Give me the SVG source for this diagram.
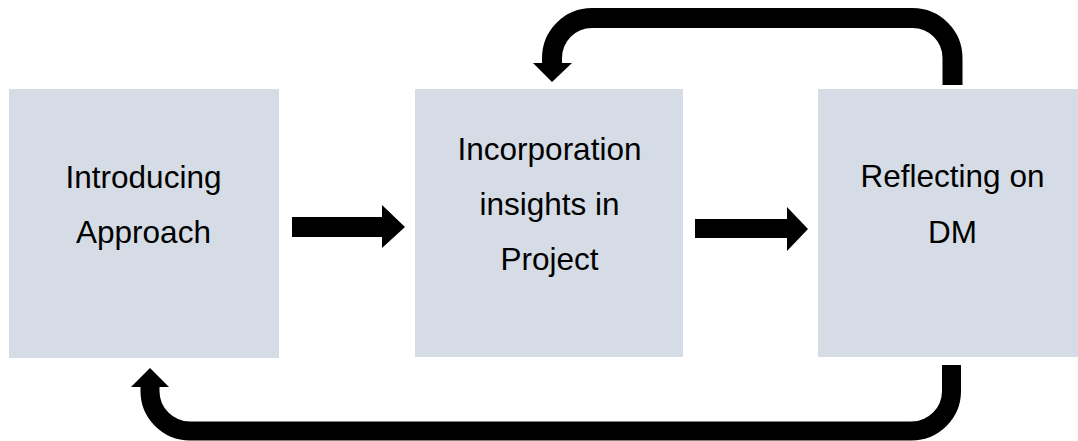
<svg xmlns="http://www.w3.org/2000/svg" width="1078" height="441" viewBox="0 0 1078 441">
<style>
.box{fill:#D5DCE5;}
.lbl{font-family:"Liberation Sans",Arial,sans-serif;font-size:31.5px;fill:#000;text-anchor:middle;}
.loop{fill:none;stroke:#000;stroke-width:20;}
.head{fill:#000;}
</style>
<rect width="1078" height="441" fill="#fff"/>
<g id="node-introducing">
<rect class="box" x="9" y="89" width="270" height="269"/>
<text class="lbl" x="143.5" y="188">Introducing</text>
<text class="lbl" x="143.5" y="243">Approach</text>
</g>
<g id="node-incorporation">
<rect class="box" x="415" y="89" width="268" height="268"/>
<text class="lbl" x="549.5" y="160">Incorporation</text>
<text class="lbl" x="549.5" y="215">insights in</text>
<text class="lbl" x="549.5" y="270">Project</text>
</g>
<g id="node-reflecting">
<rect class="box" x="818" y="89" width="270" height="268"/>
<text class="lbl" x="952.5" y="187">Reflecting on</text>
<text class="lbl" x="952.5" y="243">DM</text>
</g>
<g id="connectors">
<path class="head" d="M292 217 H382 V205 L405 227 L382 248 V237 H292 Z"/>
<path class="head" d="M695 219 H787 V207 L808 229 L787 251 V238 H695 Z"/>
<path class="loop" d="M952.5 85 V58 A40 40 0 0 0 912.5 18 H592 A40 40 0 0 0 552 58 V64"/>
<polygon class="head" points="533,63 552,82 572,63"/>
<path class="loop" style="stroke-width:19" d="M951.5 365 V391 A40 40 0 0 1 911.5 431 H190 A40 40 0 0 1 150 391 V386"/>
<polygon class="head" points="131,387 150,368 169,387"/>
</g>
</svg>
